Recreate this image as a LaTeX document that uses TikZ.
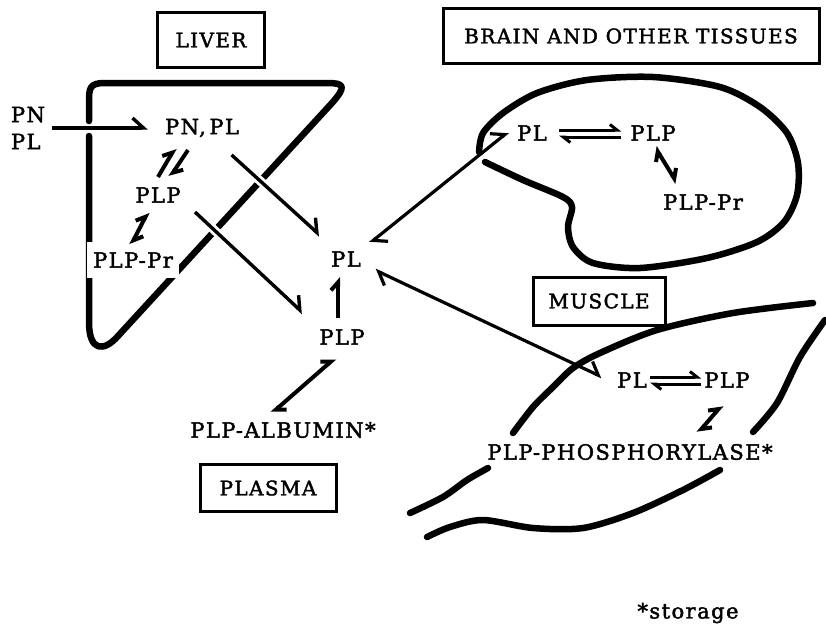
\documentclass[tikz,border=0pt]{standalone}
\usepackage{fontspec}
\setmainfont{DejaVu Serif}[LetterSpace=7, FakeBold=2]
\usepackage{tikz}
\usetikzlibrary{arrows.meta, positioning}

\tikzset{
  lbl/.style={font=\fontsize{21}{27}\selectfont, inner sep=3pt},
  cadre/.style={draw, line width=3pt, font=\fontsize{20}{24}\selectfont, inner sep=0pt},
  contour/.style={line width=6.5pt, line cap=round, line join=round},
  fleche/.style={line width=3.4pt, -{Straight Barb[harpoon, length=11pt, width=20pt]}},
  allerretour/.style={line width=3.2pt, {Straight Barb[harpoon, length=11pt, width=20pt]}-{Straight Barb[harpoon, length=11pt, width=20pt]}},
  sens/.style={line width=4pt, -{Straight Barb[harpoon, length=8pt, width=14pt]}},
  reaction/.style={line width=4pt, {Straight Barb[harpoon, length=8pt, width=14pt]}-{Straight Barb[harpoon, length=8pt, width=14pt]}},
  equil/.style={line width=3pt, -{Straight Barb[harpoon, length=7pt, width=11pt]}},
  passage/.style={preaction={draw=white, line width=9pt, -}},
}

\begin{document}
\begin{tikzpicture}[x=1pt, y=-1pt]
    \useasboundingbox (0,0) rectangle (826,625);

    % Titres
    \node[cadre, minimum width=107pt, minimum height=55pt] (tFoie) at (211,40) {LIVER};
    \node[cadre, minimum width=376pt, minimum height=55pt] (tCerveau) at (631,36) {BRAIN AND OTHER TISSUES};
    \node[cadre, minimum width=132pt, minimum height=48pt] (tMuscle) at (599,301) {MUSCLE};
    \node[cadre, minimum width=136pt, minimum height=47pt] (tPlasma) at (268,488) {PLASMA};

    % Foie
    \draw[contour] (89,136) -- (89,322) .. controls (89,352) and (104,352) .. (118,336)
      -- (332,103) .. controls (347,86) and (344,83) .. (327,83) -- (105,83)
      .. controls (89,83) and (89,88) .. (89,104) -- (89,121);
    \node[lbl, align=left] (entree) at (28,128) {PN\\PL};
    \node[lbl] (fPNPL) at (202,128) {PN,\,PL};
    \node[lbl] (fPLP) at (158,195) {PLP};
    \node[lbl, fill=white, inner xsep=6pt, inner ysep=10pt] (fPLPPr) at (133,260) {PLP-Pr};

    % Plasma
    \node[lbl] (pPL) at (346,259) {PL};
    \node[lbl] (pPLP) at (342,337) {PLP};
    \node[lbl] (pALB) at (283,430) {PLP-ALBUMIN*};

    % Cerveau
    \draw[contour] plot[smooth] coordinates {(479,152) (483,133) (503,113) (537,93) (587,80)
      (653,77) (720,87) (760,107) (787,133) (798,163) (797,195) (784,222) (757,242) (707,258)
      (640,268) (593,263) (573,247) (568,227) (572,207) (563,197) (523,180) (485,162)};
    \node[lbl] (cPL) at (532,133) {PL};
    \node[lbl] (cPLP) at (653,133) {PLP};
    \node[lbl] (cPLPPr) at (703,202) {PLP-Pr};

    % Muscle
    \draw[contour] plot[smooth] coordinates {(513,433) (533,407) (553,387) (573,368) (600,353) (657,330) (733,313) (813,303)};
    \draw[contour] plot[smooth] coordinates {(825,320) (800,357) (777,403) (753,432)};
    \draw[contour] plot[smooth] coordinates {(410,513) (443,497) (467,480) (488,468)};
    \draw[contour] plot[smooth] coordinates {(427,537) (450,527) (483,520) (533,528) (583,528) (633,513) (683,490) (720,470)};
    \node[lbl] (mPL) at (632,380) {PL};
    \node[lbl] (mPLP) at (727,380) {PLP};
    \node[lbl] (mPHOS) at (630,452) {PLP-PHOSPHORYLASE*};

    \node[lbl] (note) at (688,613) {*storage};

    % Fleches
    \draw[fleche, shorten <=4pt, shorten >=14pt] (entree.east) -- (fPNPL.west);
    \draw[sens] ([yshift=18pt]fPLP.center) -- ([xshift=-27pt, yshift=-20pt]fPNPL.center);
    \draw[sens] ([xshift=-14pt, yshift=-22pt]fPNPL.center) -- ([xshift=12pt, yshift=18pt]fPLP.center);
    \draw[reaction] ([xshift=-10pt, yshift=-17pt]fPLP.center) -- ([xshift=-2pt, yshift=15pt]fPLPPr.center);
    \draw[fleche, passage, shorten <=40pt, shorten >=35pt] (fPNPL.center) -- (pPL.center);
    \draw[fleche, passage] ([xshift=37pt, yshift=-17pt]fPLP.center) -- ([xshift=-39pt, yshift=24pt]pPLP.center);
    \draw[sens] ([xshift=-4pt, yshift=19pt]pPLP.center) -- ([xshift=-8pt, yshift=-18pt]pPL.center);
    \draw[reaction] ([xshift=-7pt, yshift=-21pt]pPLP.center) -- ([xshift=-11pt, yshift=17pt]pALB.center);
    \draw[allerretour] ([xshift=24pt, yshift=16pt]pPL.center) -- ([xshift=-24pt, yshift=1pt]cPL.center);
    \draw[allerretour] ([xshift=29pt, yshift=-11pt]pPL.center) -- ([xshift=-30pt, yshift=3pt]mPL.center);
    \draw[equil, shorten <=9pt, shorten >=6pt] ([yshift=3pt]cPL.east) -- ([yshift=3pt]cPLP.west);
    \draw[equil, shorten <=6pt, shorten >=9pt] ([yshift=-4pt]cPLP.west) -- ([yshift=-4pt]cPL.east);
    \draw[reaction] ([xshift=2pt, yshift=-14pt]cPLP.center) -- ([xshift=-26pt, yshift=19pt]cPLPPr.center);
    \draw[equil, shorten <=0pt, shorten >=0pt] ([yshift=3pt]mPL.east) -- ([yshift=3pt]mPLP.west);
    \draw[equil, shorten <=0pt, shorten >=0pt] ([yshift=-4pt]mPLP.west) -- ([yshift=-4pt]mPL.east);
    \draw[reaction] ([xshift=-5pt, yshift=-25pt]mPLP.center) -- ([xshift=68pt, yshift=19pt]mPHOS.center);
\end{tikzpicture}
\end{document}
